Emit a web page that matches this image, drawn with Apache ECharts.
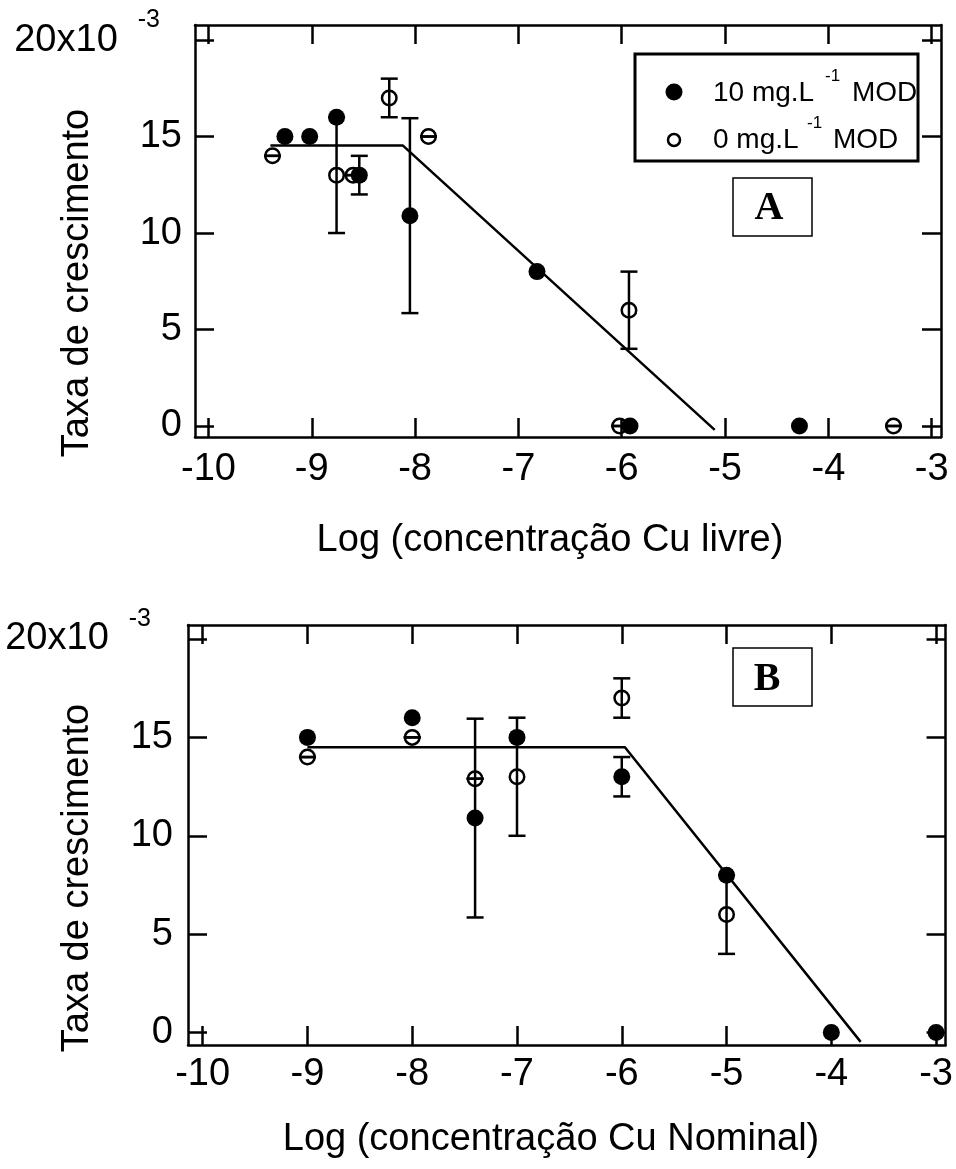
<!DOCTYPE html>
<html>
<head>
<meta charset="utf-8">
<script src="https://cdn.jsdelivr.net/npm/echarts@6/dist/echarts.min.js"></script>
<style>
html,body{margin:0;padding:0;background:#fff;}
#c{width:956px;height:1169px;}
</style>
</head>
<body>
<div id="c"></div>
<script>
// ---------- data ----------
const xTicks = [-10, -9, -8, -7, -6, -5, -4, -3];
const yTicks = [0, 5, 10, 15, 20];

// Panel A : Log (concentração Cu livre)
const aFilledX = [-9.26, -9.02, -8.76, -8.54, -8.05, -6.82, -5.92, -4.28];
const aFilledY = [15, 15, 16, 13, 10.9, 8, 0, 0];
const aFilledErr = [null, null, null, 1, 5.05, null, null, null];
const aOpenX = [-9.38, -8.76, -8.60, -8.25, -7.87, -5.93, -6.02, -3.37];
const aOpenY = [14, 13, 13, 17, 15, 6, 0, 0];
const aOpenErr = [0, 3, 0, 1, 0, 2, 0, 0];
const aFitX = [-9.40, -8.12, -5.10];
const aFitY = [14.54, 14.54, -0.2];

// Panel B : Log (concentração Cu Nominal)
const bFilledX = [-9, -8, -7.4, -7, -6, -5, -4, -3];
const bFilledY = [15, 16, 10.9, 15, 13, 8, 0, 0];
const bFilledErr = [null, null, 5.05, null, 1, null, null, null];
const bOpenX = [-9, -8, -7.4, -7, -6, -5];
const bOpenY = [14, 15, 12.9, 13, 17, 6];
const bOpenErr = [0, 0, 0, 3, 1, 2];
const bFitX = [-9.0, -5.97, -3.72];
const bFitY = [14.5, 14.5, -0.47];

const legendLabels = ['10 mg.L', '0 mg.L'];
const legendSup = '-1';
const legendTail = 'MOD';
const xTitleA = 'Log (concentração Cu livre)';
const xTitleB = 'Log (concentração Cu Nominal)';
const yTitle = 'Taxa de crescimento';
const panelLabels = ['A', 'B'];

// ---------- helpers ----------
const FONT = '"Liberation Sans", Arial, sans-serif';
const LW = 2.5;

function pairs(xs, ys) { return xs.map((x, i) => [x, ys[i]]); }
function errData(xs, ys, es) {
  const out = [];
  xs.forEach((x, i) => { if (es[i] !== null && es[i] !== undefined) out.push([x, ys[i] - es[i], ys[i] + es[i]]); });
  return out;
}
function errRender(params, api) {
  const x = api.value(0), lo = api.value(1), hi = api.value(2);
  const pLo = api.coord([x, lo]), pHi = api.coord([x, hi]);
  const hw = 8.5;
  const st = { stroke: '#000', lineWidth: LW, fill: null };
  return {
    type: 'group', children: [
      { type: 'line', shape: { x1: pLo[0], y1: pLo[1], x2: pHi[0], y2: pHi[1] }, style: st },
      { type: 'line', shape: { x1: pLo[0] - hw, y1: pLo[1], x2: pLo[0] + hw, y2: pLo[1] }, style: st },
      { type: 'line', shape: { x1: pHi[0] - hw, y1: pHi[1], x2: pHi[0] + hw, y2: pHi[1] }, style: st }
    ]
  };
}

function xAxisDef(gi, pos, min, max, labelMargin) {
  return {
    type: 'value', gridIndex: gi, position: pos, min: min, max: max,
    axisLine: { show: true, onZero: false, lineStyle: { color: '#000', width: LW } },
    axisTick: { show: true, inside: true, length: 19, customValues: xTicks, lineStyle: { color: '#000', width: LW } },
    axisLabel: { show: pos === 'bottom', customValues: xTicks, margin: labelMargin, color: '#000', fontSize: 38, fontFamily: FONT },
    splitLine: { show: false }
  };
}
function yAxisDef(gi, pos, min, max, labelMargin) {
  return {
    type: 'value', gridIndex: gi, position: pos, min: min, max: max,
    axisLine: { show: true, onZero: false, lineStyle: { color: '#000', width: LW } },
    axisTick: { show: true, inside: true, length: 19, customValues: yTicks, lineStyle: { color: '#000', width: LW } },
    axisLabel: {
      show: pos === 'left', customValues: yTicks, margin: labelMargin, color: '#000',
      fontSize: 38, fontFamily: FONT,
      formatter: v => (v === 20 ? '{a|20x10}{s|-3}' : '{a|' + v + '}'),
      rich: {
        a: { fontSize: 38, fontFamily: FONT, color: '#000' },
        s: { fontSize: 25, fontFamily: FONT, color: '#000', padding: [0, 22, 40, 20] }
      }
    },
    splitLine: { show: false }
  };
}

function panelSeries(ax, filledX, filledY, filledErr, openX, openY, openErr, fitX, fitY) {
  return [
    { type: 'line', xAxisIndex: ax, yAxisIndex: ax, data: pairs(fitX, fitY), showSymbol: false, symbol: 'none',
      lineStyle: { color: '#000', width: LW }, z: 2, silent: true },
    { type: 'custom', xAxisIndex: ax, yAxisIndex: ax, renderItem: errRender, data: errData(openX, openY, openErr),
      encode: { x: 0, y: [1, 2] }, z: 3, silent: true },
    { type: 'custom', xAxisIndex: ax, yAxisIndex: ax, renderItem: errRender, data: errData(filledX, filledY, filledErr),
      encode: { x: 0, y: [1, 2] }, z: 3, silent: true },
    { type: 'scatter', xAxisIndex: ax, yAxisIndex: ax, data: pairs(openX, openY), symbol: 'circle', symbolSize: 14.5,
      itemStyle: { color: 'rgba(0,0,0,0)', borderColor: '#000', borderWidth: LW, opacity: 1 }, z: 4, silent: true },
    { type: 'scatter', xAxisIndex: ax, yAxisIndex: ax, data: pairs(filledX, filledY), symbol: 'circle', symbolSize: 17,
      itemStyle: { color: '#000', opacity: 1 }, z: 5, silent: true }
  ];
}

const chart = echarts.init(document.getElementById('c'), null, { renderer: 'canvas' });

const gridA = { left: 195, top: 25, width: 746, height: 412 };
const gridB = { left: 188, top: 625, width: 760, height: 420 };

const option = {
  animation: false,
  backgroundColor: '#fff',
  grid: [gridA, gridB],
  xAxis: [
    xAxisDef(0, 'bottom', -10.13, -2.91, 14),
    xAxisDef(1, 'bottom', -10.14, -2.91, 11),
    xAxisDef(0, 'top', -10.13, -2.91, 0),
    xAxisDef(1, 'top', -10.14, -2.91, 0)
  ],
  yAxis: [
    yAxisDef(0, 'left', -0.57, 20.78, 13),
    yAxisDef(1, 'left', -0.63, 20.71, 15),
    yAxisDef(0, 'right', -0.57, 20.78, 0),
    yAxisDef(1, 'right', -0.63, 20.71, 0)
  ],
  series: [].concat(
    panelSeries(0, aFilledX, aFilledY, aFilledErr, aOpenX, aOpenY, aOpenErr, aFitX, aFitY),
    panelSeries(1, bFilledX, bFilledY, bFilledErr, bOpenX, bOpenY, bOpenErr, bFitX, bFitY)
  ),
  graphic: [
    // axis titles
    { type: 'text', x: 550, y: 541, style: { text: xTitleA, font: '38px ' + FONT, fill: '#000', align: 'center', verticalAlign: 'middle' } },
    { type: 'text', x: 551, y: 1140, style: { text: xTitleB, font: '38px ' + FONT, fill: '#000', align: 'center', verticalAlign: 'middle' } },
    { type: 'text', x: 78, y: 283, rotation: Math.PI / 2, style: { text: yTitle, font: '38px ' + FONT, fill: '#000', align: 'center', verticalAlign: 'middle' } },
    { type: 'text', x: 78, y: 878, rotation: Math.PI / 2, style: { text: yTitle, font: '38px ' + FONT, fill: '#000', align: 'center', verticalAlign: 'middle' } },
    // legend (panel A)
    { type: 'rect', shape: { x: 635, y: 54, width: 283, height: 107 }, style: { fill: 'rgba(0,0,0,0)', stroke: '#000', lineWidth: 3 }, z: 10 },
    { type: 'circle', shape: { cx: 674, cy: 92, r: 8.5 }, style: { fill: '#000' }, z: 10 },
    { type: 'text', x: 713, y: 93, style: { text: legendLabels[0], font: '28px ' + FONT, fill: '#000', align: 'left', verticalAlign: 'middle' }, z: 10 },
    { type: 'text', x: 825, y: 76, style: { text: legendSup, font: '17px ' + FONT, fill: '#000', align: 'left', verticalAlign: 'middle' }, z: 10 },
    { type: 'text', x: 852, y: 93, style: { text: legendTail, font: '28px ' + FONT, fill: '#000', align: 'left', verticalAlign: 'middle' }, z: 10 },
    { type: 'circle', shape: { cx: 674, cy: 140, r: 6 }, style: { fill: 'rgba(0,0,0,0)', stroke: '#000', lineWidth: 2.5 }, z: 10 },
    { type: 'text', x: 713, y: 140, style: { text: legendLabels[1], font: '28px ' + FONT, fill: '#000', align: 'left', verticalAlign: 'middle' }, z: 10 },
    { type: 'text', x: 807, y: 123, style: { text: legendSup, font: '17px ' + FONT, fill: '#000', align: 'left', verticalAlign: 'middle' }, z: 10 },
    { type: 'text', x: 833, y: 140, style: { text: legendTail, font: '28px ' + FONT, fill: '#000', align: 'left', verticalAlign: 'middle' }, z: 10 },
    // panel labels
    { type: 'rect', shape: { x: 733, y: 178, width: 79, height: 58 }, style: { fill: 'rgba(0,0,0,0)', stroke: '#000', lineWidth: 1.5 }, z: 10 },
    { type: 'text', x: 769, y: 209, style: { text: panelLabels[0], font: 'bold 40px "Liberation Serif", "Times New Roman", serif', fill: '#000', align: 'center', verticalAlign: 'middle' }, z: 10 },
    { type: 'rect', shape: { x: 733, y: 648, width: 79, height: 58 }, style: { fill: 'rgba(0,0,0,0)', stroke: '#000', lineWidth: 1.5 }, z: 10 },
    { type: 'text', x: 767, y: 680, style: { text: panelLabels[1], font: 'bold 40px "Liberation Serif", "Times New Roman", serif', fill: '#000', align: 'center', verticalAlign: 'middle' }, z: 10 }
  ]
};
chart.setOption(option);
</script>
</body>
</html>
